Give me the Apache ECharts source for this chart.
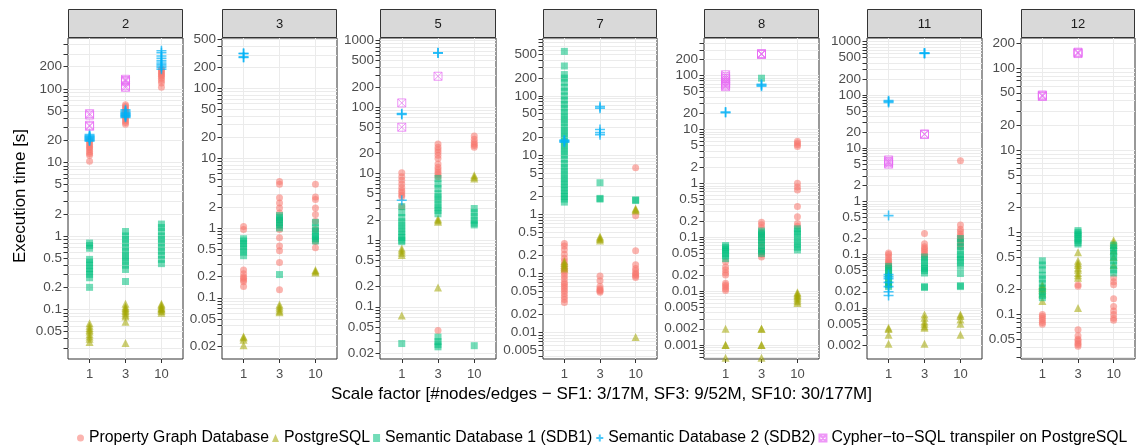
<!DOCTYPE html>
<html><head><meta charset="utf-8">
<script src="https://cdn.jsdelivr.net/npm/echarts@6/dist/echarts.min.js"></script>
<style>html,body{margin:0;padding:0;background:#fff}#c{width:1136px;height:448px}</style>
</head><body><div id="c"></div>
<script>
// ---------- categories ----------
const scaleFactors = ['1', '3', '10'];
const queries = ['2', '3', '5', '7', '8', '11', '12'];
const systems = ['Property Graph Database', 'PostgreSQL', 'Semantic Database 1 (SDB1)',
  'Semantic Database 2 (SDB2)', 'Cypher\u2212to\u2212SQL transpiler on PostgreSQL'];

// ---------- values (seconds), each: [SF1 runs, SF3 runs, SF10 runs] ----------
// Query 2
const q2_pgdb = [[10.4, 12.5, 13.2, 14, 15, 15.8, 16.5, 17.5, 18.5, 19.5, 20.5], [33, 35, 37, 39, 41, 43, 46, 49, 52, 55, 58, 61], [105, 120, 130, 140, 148, 155, 162, 170, 178, 186]];
const q2_pg = [[0.036, 0.04, 0.043, 0.046, 0.05, 0.053, 0.056, 0.06, 0.065], [0.035, 0.068, 0.08, 0.085, 0.09, 0.095, 0.1, 0.105, 0.11, 0.12], [0.09, 0.095, 0.1, 0.102, 0.105, 0.11, 0.115, 0.12]];
const q2_sdb1 = [[0.2, 0.27, 0.3, 0.33, 0.36, 0.4, 0.44, 0.48, 0.68, 0.74, 0.8], [0.24, 0.35, 0.4, 0.45, 0.5, 0.55, 0.62, 0.7, 0.8, 0.9, 1.0, 1.15], [0.42, 0.48, 0.55, 0.62, 0.7, 0.8, 0.9, 1.0, 1.15, 1.3, 1.45]];
const q2_sdb2 = [[19.5, 20, 20.5, 21, 21.5, 22, 22.5, 23, 24], [41, 42, 43, 44, 45, 46, 47, 48, 50, 52], [185, 195, 205, 215, 225, 240, 260, 280, 310, 330]];
const q2_cts = [[31, 32, 44, 46], [105, 110, 125, 130, 135], []];
// Query 3
const q3_pgdb = [[0.145, 0.17, 0.18, 0.19, 0.2, 0.22, 0.25, 0.95, 1.05], [0.13, 0.32, 0.47, 0.55, 0.72, 0.95, 1.1, 1.3, 1.64, 1.93, 2.27, 2.7, 4.2, 4.6], [0.52, 0.64, 0.95, 1.24, 1.55, 1.93, 2.54, 2.77, 4.2]];
const q3_pg = [[0.021, 0.025, 0.027, 0.028], [0.062, 0.065, 0.07, 0.075, 0.08], [0.23, 0.24, 0.25]];
const q3_sdb1 = [[0.4, 0.45, 0.5, 0.55, 0.6, 0.65, 0.7], [0.215, 1.0, 1.1, 1.2, 1.3, 1.4, 1.5], [0.65, 0.7, 0.75, 0.8, 0.9, 1.0, 1.2]];
const q3_sdb2 = [[275, 280, 310, 316], [], []];
const q3_cts = [[], [], []];
// Query 5
const q5_pgdb = [[3.2, 4.5, 4.8, 5.2, 5.6, 6.2, 7, 8, 9, 10.3], [0.044, 9, 9.8, 10.5, 11.5, 12.5, 14, 17, 19, 21, 23, 25, 28], [25, 26.5, 28, 30, 33, 37]];
const q5_pg = [[0.074, 0.6, 0.65, 0.7, 0.75], [0.195, 1.9, 2.0, 2.1], [8.5, 9, 9.5]];
const q5_sdb1 = [[0.028, 0.95, 1.0, 1.1, 1.2, 1.35, 1.5, 1.7, 1.9, 2.2, 2.6, 3.2], [0.025, 0.027, 0.03, 0.035, 2.5, 2.8, 3.1, 3.5, 4, 4.5, 5, 6, 7, 8.5], [0.026, 1.7, 1.8, 2.0, 2.3, 2.6, 3.0]];
const q5_sdb2 = [[4.0, 78, 80], [650, 660], []];
const q5_cts = [[50, 116], [292], []];
// Query 7
const q7_pgdb = [[0.032, 0.036, 0.04, 0.045, 0.05, 0.055, 0.06, 0.065, 0.07, 0.08, 0.09, 0.1, 0.11, 0.12, 0.14, 0.16, 0.18, 0.21, 0.25, 0.29, 0.32], [0.048, 0.05, 0.052, 0.055, 0.06, 0.075, 0.09], [0.085, 0.09, 0.095, 0.1, 0.11, 0.12, 0.14, 0.24, 0.94, 6.1]];
const q7_pg = [[0.12, 0.13, 0.14, 0.15, 0.16], [0.36, 0.38, 0.4, 0.42], [0.0084, 1.15, 1.2, 1.25]];
const q7_sdb1 = [[1.6, 1.8, 2.0, 2.2, 2.5, 2.8, 3.2, 3.6, 4.1, 4.7, 5.4, 6.2, 7.2, 8.5, 10, 11.5, 13, 15, 17, 20, 23, 26, 30, 35, 40, 46, 53, 62, 72, 85, 100, 120, 140, 170, 200, 230, 321, 567], [1.8, 1.85, 3.4], [1.7, 1.75]];
const q7_sdb2 = [[16.5, 17, 17.5, 18], [22, 24, 27, 62, 66], []];
const q7_cts = [[], [], []];
// Query 8
const q8_pgdb = [[0.0103, 0.011, 0.012, 0.013, 0.014, 0.02, 0.022, 0.025, 0.028, 0.035], [0.043, 0.048, 0.055, 0.065, 0.08, 0.1, 0.12, 0.15, 0.17, 0.19], [0.16, 0.18, 0.24, 0.37, 0.75, 0.85, 1.0, 4.8, 5.2, 5.6, 6.0]];
const q8_pg = [[0.00058, 0.001, 0.001, 0.002], [0.00058, 0.001, 0.001, 0.002, 0.002], [0.006, 0.0065, 0.007, 0.0075, 0.008, 0.0085, 0.009, 0.0095]];
const q8_sdb1 = [[0.04, 0.045, 0.05, 0.055, 0.06, 0.065, 0.07], [0.05, 0.055, 0.06, 0.07, 0.08, 0.09, 0.1, 0.11, 0.12, 0.13, 89], [0.058, 0.065, 0.075, 0.085, 0.1, 0.115, 0.13, 0.143]];
const q8_sdb2 = [[20.5, 21], [63, 66, 69], []];
const q8_cts = [[62, 66, 70, 75, 80, 88, 95, 103], [245, 250, 255], []];
// Query 11
const q11_pgdb = [[0.06, 0.065, 0.07, 0.075, 0.08, 0.09, 0.1, 0.107], [0.093, 0.1, 0.11, 0.12, 0.13, 0.14, 0.16, 0.25], [0.14, 0.16, 0.18, 0.2, 0.22, 0.24, 0.27, 0.3, 0.36, 5.8]];
const q11_pg = [[0.0021, 0.0031, 0.004, 0.0042], [0.0021, 0.0042, 0.0045, 0.005, 0.0055, 0.0065, 0.0075], [0.0031, 0.005, 0.006, 0.007, 0.0075]];
const q11_sdb1 = [[0.025, 0.027, 0.03, 0.035, 0.04, 0.045, 0.05, 0.055, 0.06], [0.024, 0.025, 0.045, 0.05, 0.055, 0.06, 0.07, 0.08, 0.09], [0.025, 0.026, 0.044, 0.06, 0.07, 0.08, 0.09, 0.1, 0.12, 0.14, 0.17, 0.2]];
const q11_sdb2 = [[0.017, 0.02, 0.025, 0.03, 0.035, 0.038, 0.042, 0.54, 72, 75, 78], [600, 608, 615], []];
const q11_cts = [[5.0, 5.3, 5.6, 6.0], [18, 18.5], []];
// Query 12
const q12_pgdb = [[0.076, 0.08, 0.085, 0.09, 0.095, 0.1], [0.041, 0.043, 0.045, 0.048, 0.05, 0.055, 0.065, 0.22, 0.23], [0.085, 0.09, 0.1, 0.11, 0.125, 0.155, 0.23, 0.25, 0.28]];
const q12_pg = [[0.146, 0.18, 0.2, 0.21, 0.22, 0.23], [0.12, 0.28, 0.3, 0.32, 0.35, 0.37, 0.4, 0.42, 0.45, 0.57], [0.4, 0.5, 0.6, 0.7, 0.75, 0.8]];
const q12_sdb1 = [[0.16, 0.17, 0.19, 0.21, 0.24, 0.27, 0.3, 0.35, 0.4, 0.45], [0.72, 0.75, 0.8, 0.85, 0.9, 0.95, 1.0, 1.05], [0.32, 0.35, 0.4, 0.45, 0.5, 0.55, 0.6, 0.65, 0.7]];
const q12_sdb2 = [[], [], []];
const q12_cts = [[45, 46, 47], [150, 153, 156], []];

// ---------- y tick labels per panel ----------
const yLabels_q2 = [0.05, 0.1, 0.2, 0.5, 1, 2, 5, 10, 20, 50, 100, 200];
const yLabels_q3 = [0.02, 0.05, 0.1, 0.2, 0.5, 1, 2, 5, 10, 20, 50, 100, 200, 500];
const yLabels_q5 = [0.02, 0.05, 0.1, 0.2, 0.5, 1, 2, 5, 10, 20, 50, 100, 200, 500, 1000];
const yLabels_q7 = [0.005, 0.01, 0.02, 0.05, 0.1, 0.2, 0.5, 1, 2, 5, 10, 20, 50, 100, 200, 500];
const yLabels_q8 = [0.001, 0.002, 0.005, 0.01, 0.02, 0.05, 0.1, 0.2, 0.5, 1, 2, 5, 10, 20, 50, 100, 200];
const yLabels_q11 = [0.002, 0.005, 0.01, 0.02, 0.05, 0.1, 0.2, 0.5, 1, 2, 5, 10, 20, 50, 100, 200, 500, 1000];
const yLabels_q12 = [0.05, 0.1, 0.2, 0.5, 1, 2, 5, 10, 20, 50, 100, 200];

// ---------- assemble ----------
const panelData = [
  [q2_pgdb, q2_pg, q2_sdb1, q2_sdb2, q2_cts],
  [q3_pgdb, q3_pg, q3_sdb1, q3_sdb2, q3_cts],
  [q5_pgdb, q5_pg, q5_sdb1, q5_sdb2, q5_cts],
  [q7_pgdb, q7_pg, q7_sdb1, q7_sdb2, q7_cts],
  [q8_pgdb, q8_pg, q8_sdb1, q8_sdb2, q8_cts],
  [q11_pgdb, q11_pg, q11_sdb1, q11_sdb2, q11_cts],
  [q12_pgdb, q12_pg, q12_sdb1, q12_sdb2, q12_cts]
];
const panelLabels = [yLabels_q2, yLabels_q3, yLabels_q5, yLabels_q7, yLabels_q8, yLabels_q11, yLabels_q12];
const yMin = [0.0212, 0.0133, 0.0164, 0.00355, 0.00055, 0.00109, 0.0287];
const yMax = [492, 522, 1097, 955, 496, 1173, 232];

// layout
const panelLeft = [68, 222, 380, 543, 704, 867, 1021];
const panelW = [115, 115, 116, 114, 115, 115, 114];
const plotTop = 38, plotH = 321;
const FONT = '"Liberation Sans", Arial, Helvetica, sans-serif';

const colors = ['#F8766D', '#A3A500', '#00BF7D', '#00B0F6', '#E76BF3'];
const symbolDefs = [
  {symbol: 'circle', size: 7, style: {color: colors[0], opacity: 0.55}},
  {symbol: 'triangle', size: 8, style: {color: colors[1], opacity: 0.55}},
  {symbol: 'rect', size: 7, style: {color: colors[2], opacity: 0.55}},
  {symbol: 'path://M5,0V10M0,5H10', size: 10, style: {color: 'rgba(0,0,0,0)', borderColor: colors[3], borderWidth: 1.6, opacity: 0.7}},
  {symbol: 'path://M0,0H10V10H0ZM0,0L10,10M10,0L0,10', size: 8, style: {color: 'rgba(0,0,0,0)', borderColor: colors[4], borderWidth: 1, opacity: 0.7}}
];

function logTicks(mn, mx) {
  const out = [];
  for (let e = Math.floor(Math.log10(mn)) - 1; e <= Math.ceil(Math.log10(mx)); e++) {
    for (let k = 1; k <= 9; k++) {
      const v = +(k * Math.pow(10, e)).toPrecision(6);
      if (v >= mn && v <= mx) out.push(v);
    }
  }
  return out;
}
const fmt = v => String(+Number(v).toPrecision(4));

const grids = [], xAxes = [], yAxes = [], series = [], graphics = [];
queries.forEach((q, p) => {
  grids.push({left: panelLeft[p], top: plotTop, width: panelW[p], height: plotH,
    show: true, borderColor: '#333333', borderWidth: 1, backgroundColor: '#ffffff'});
  xAxes.push({type: 'value', gridIndex: p, min: 0.4, max: 3.6,
    axisLine: {show: false},
    axisTick: {show: true, customValues: [1, 2, 3], length: 4, lineStyle: {color: '#333333'}},
    axisLabel: {customValues: [1, 2, 3], formatter: v => scaleFactors[Math.round(v) - 1],
      fontSize: 13, color: '#4d4d4d', margin: 9, fontFamily: FONT},
    splitLine: {show: true, lineStyle: {color: '#ebebeb', width: 1}}});
  yAxes.push({type: 'log', logBase: 10, gridIndex: p, min: yMin[p], max: yMax[p],
    axisLine: {show: false},
    axisTick: {show: true, customValues: logTicks(yMin[p], yMax[p]), length: 4.5, lineStyle: {color: '#333333'}},
    axisLabel: {customValues: panelLabels[p], formatter: fmt, fontSize: 13.5, color: '#4d4d4d', margin: 6, fontFamily: FONT},
    splitLine: {show: true, lineStyle: {color: '#ebebeb', width: 1}}});
  panelData[p].forEach((arr, s) => {
    const d = [];
    arr.forEach((runs, sf) => runs.forEach(v => d.push([sf + 1, v])));
    series.push({type: 'scatter', name: systems[s], xAxisIndex: p, yAxisIndex: p,
      data: d, symbol: symbolDefs[s].symbol, symbolSize: symbolDefs[s].size,
      itemStyle: symbolDefs[s].style, silent: true, z: 2 + s});
  });
  graphics.push({type: 'rect', shape: {x: panelLeft[p] + 0.5, y: 9.5, width: panelW[p] - 1, height: 28},
    style: {fill: '#d9d9d9', stroke: '#333333', lineWidth: 1}});
  graphics.push({type: 'text', x: panelLeft[p] + panelW[p] / 2, y: 24,
    style: {text: q, fill: '#1a1a1a', font: '13px ' + FONT, align: 'center', verticalAlign: 'middle'}});
});
graphics.push({type: 'text', x: 601.5, y: 394,
  style: {text: 'Scale factor [#nodes/edges \u2212 SF1: 3/17M, SF3: 9/52M, SF10: 30/177M]',
    fill: '#000', font: '17px ' + FONT, align: 'center', verticalAlign: 'middle'}});
graphics.push({type: 'text', x: 20, y: 196, rotation: Math.PI / 2,
  style: {text: 'Execution time [s]', fill: '#000', font: '17px ' + FONT, align: 'center', verticalAlign: 'middle'}});

const chart = echarts.init(document.getElementById('c'), null, {renderer: 'canvas'});
chart.setOption({
  animation: false,
  backgroundColor: '#ffffff',
  grid: grids, xAxis: xAxes, yAxis: yAxes, series: series,
  graphic: graphics,
  legend: {top: 430, left: 77, padding: 0, itemWidth: 7, itemHeight: 8, itemGap: 3,
    textStyle: {fontSize: 15.8, color: '#000', fontFamily: FONT},
    data: systems}
});
</script></body></html>
